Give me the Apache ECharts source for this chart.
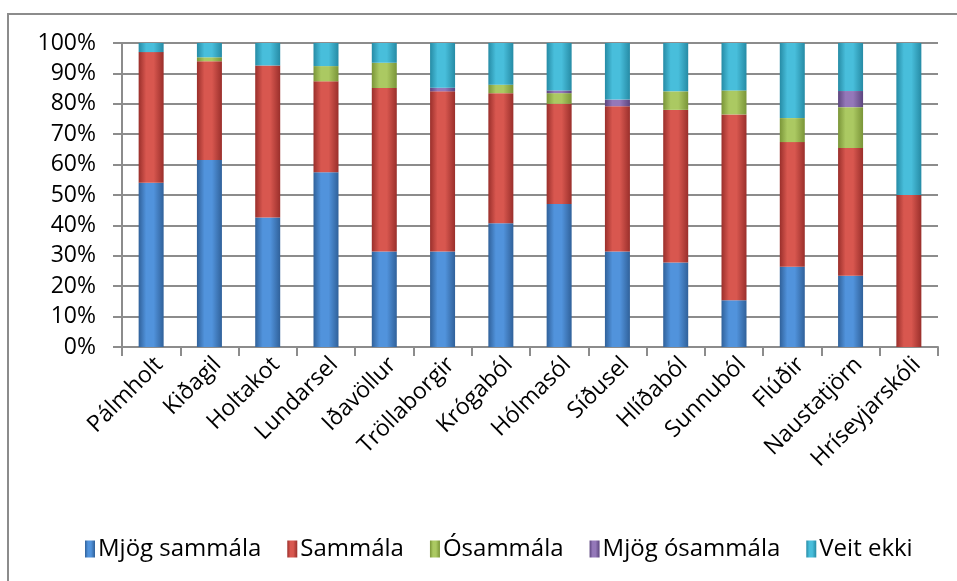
<!DOCTYPE html>
<html>
<head>
<meta charset="utf-8">
<script src="https://cdn.jsdelivr.net/npm/echarts@6/dist/echarts.min.js"></script>
<style>
html,body{margin:0;padding:0;background:#fff;}
#chart{width:957px;height:581px;}
</style>
</head>
<body>
<div id="chart"></div>
<script>
const categories = ['Pálmholt','Kiðagil','Holtakot','Lundarsel','Iðavöllur','Tröllaborgir','Krógaból','Hólmasól','Síðusel','Hlíðaból','Sunnuból','Flúðir','Naustatjörn','Hríseyjarskóli'];
const seriesNames = ['Mjög sammála','Sammála','Ósammála','Mjög ósammála','Veit ekki'];
const mjogSammala   = [54, 61.5, 42.6, 57.5, 31.4, 31.4, 40.7, 47, 31.4, 27.8, 15.4, 26.4, 23.4, 0];
const sammala       = [43, 32.5, 50, 29.9, 53.8, 52.7, 42.8, 33, 47.8, 50.2, 61.1, 41, 42.1, 50];
const osammala      = [0, 1.3, 0, 5, 8.3, 0, 2.8, 3.5, 0, 6.1, 7.9, 7.9, 13.4, 0];
const mjogOsammala  = [0, 0, 0, 0, 0, 1.2, 0, 0.9, 2.2, 0, 0, 0, 5.3, 0];
const veitEkki      = [3, 4.7, 7.4, 7.6, 6.5, 14.7, 13.7, 15.6, 18.6, 15.9, 15.6, 24.7, 15.8, 50];
const yTicks = [0,10,20,30,40,50,60,70,80,90,100];

const values = [mjogSammala, sammala, osammala, mjogOsammala, veitEkki];
const palette = [
  ['#30619a','#5193dc','#3d78bd'],
  ['#9a2f2b','#d8574f','#b8433f'],
  ['#7a9538','#abc962','#91ad4b'],
  ['#5c457e','#9478b9','#765b9b'],
  ['#268ba5','#48bedb','#36a5c2']
];
function grad(p){
  return new echarts.graphic.LinearGradient(0,0,1,0,[
    {offset:0,color:p[0]},{offset:0.3,color:p[1]},{offset:0.6,color:p[1]},{offset:1,color:p[0]}
  ]);
}
const FONT = 'Open Sans';
const chart = echarts.init(document.getElementById('chart'));
chart.setOption({
  animation:false,
  textStyle:{fontFamily:FONT,color:'#000'},
  graphic:[{type:'rect',shape:{x:8,y:14,width:1200,height:1200},style:{fill:'none',stroke:'#8c8c8c',lineWidth:2},z:-1}],
  grid:{left:122,right:19,top:43,bottom:234,containLabel:false},
  legend:{
    data:seriesNames,
    bottom:15,left:80,
    itemWidth:10,itemHeight:17,itemGap:26,
    icon:'rect',
    textStyle:{fontSize:24,fontFamily:FONT,color:'#000',padding:[0,0,0,-2]}
  },
  xAxis:{
    type:'category',data:categories,
    axisLine:{lineStyle:{color:'#8c8c8c',width:2}},
    axisTick:{show:true,length:9,lineStyle:{color:'#8c8c8c',width:2},alignWithLabel:false},
    axisLabel:{rotate:45,fontSize:23,color:'#000',margin:6,interval:0,fontFamily:FONT,verticalAlign:'top',align:'right'},
    boundaryGap:true
  },
  yAxis:{
    type:'value',min:0,max:100,interval:10,
    axisLine:{show:true,lineStyle:{color:'#8c8c8c',width:2}},
    axisTick:{show:true,length:9,lineStyle:{color:'#8c8c8c',width:2}},
    axisLabel:{formatter:'{value}%',fontSize:23,color:'#000',margin:26,fontFamily:FONT},
    splitLine:{lineStyle:{color:'#8c8c8c',width:2}}
  },
  series: seriesNames.map((n,i)=>({
    name:n,type:'bar',stack:'total',barWidth:25,
    data:values[i],
    itemStyle:{color:grad(palette[i])},
    emphasis:{disabled:true}
  }))
});
</script>
</body>
</html>
